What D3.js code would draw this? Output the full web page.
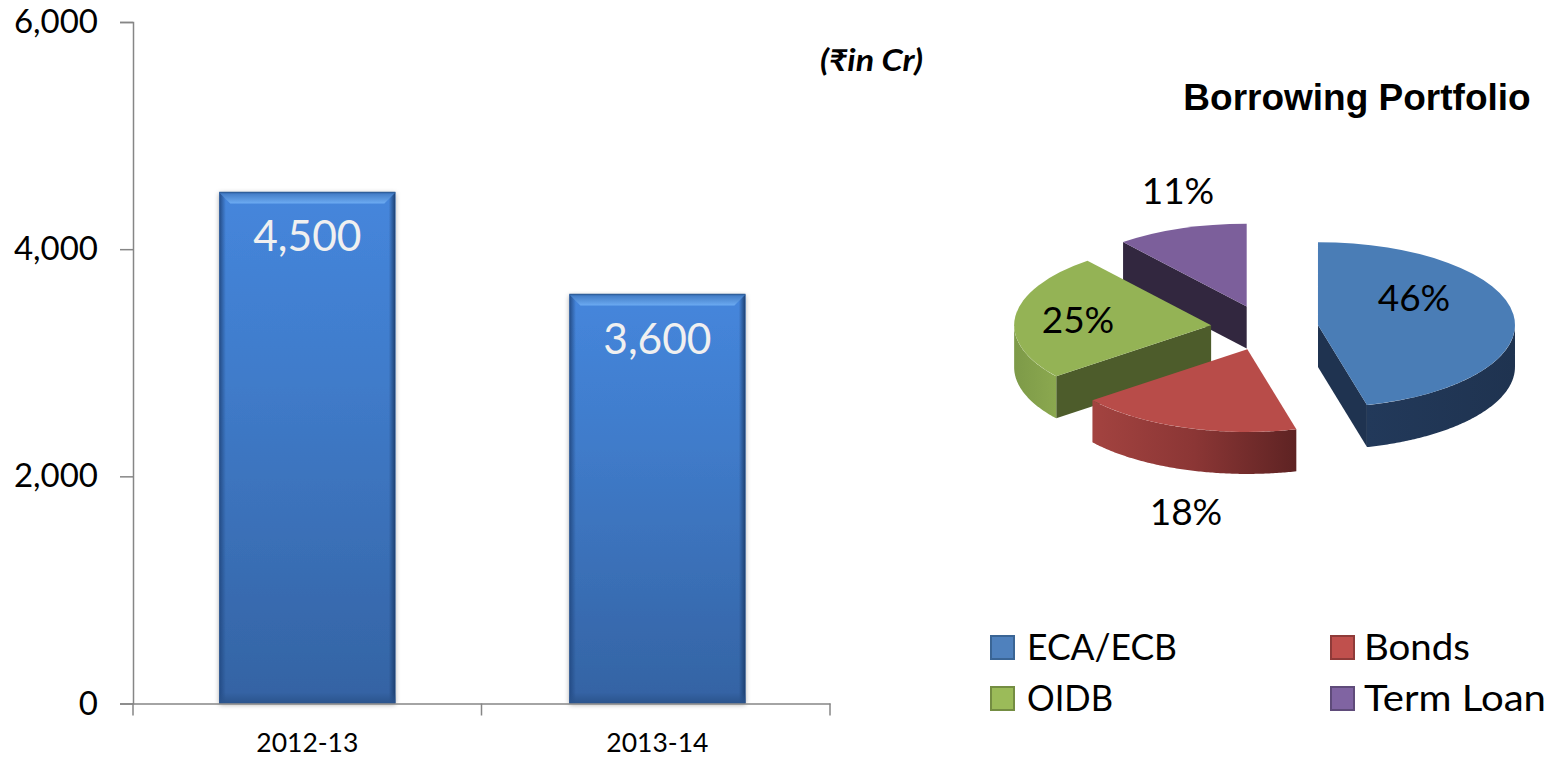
<!DOCTYPE html>
<html>
<head>
<meta charset="utf-8">
<script src="https://cdn.jsdelivr.net/npm/d3@7"></script>
<style>
  body { margin: 0; background: #fff; }
  text { font-family: Lato, "Noto Sans", sans-serif; fill: #000; }
</style>
</head>
<body>
<div id="vis"></div>
<script>
// bar chart data
const years = ["2012-13", "2013-14"];
const borrowings = [4500, 3600];
const yTicks = [0, 2000, 4000, 6000];

// pie data, unrounded shares
const portfolioNames = ["ECA/ECB", "Bonds", "OIDB", "Term Loan"];
const portfolioShares = [46, 18.4, 24.8, 10.8];

const FRAME_WIDTH = 1554;
const FRAME_HEIGHT = 758;

const svg = d3.select("#vis").append("svg")
  .attr("width", FRAME_WIDTH)
  .attr("height", FRAME_HEIGHT)
  .style("display", "block");

const defs = svg.append("defs");

function linearGradient(id, vertical, stops) {
  const g = defs.append("linearGradient").attr("id", id)
    .attr("x1", 0).attr("y1", 0)
    .attr("x2", vertical ? 0 : 1).attr("y2", vertical ? 1 : 0);
  stops.forEach((s) => g.append("stop").attr("offset", s[0]).attr("stop-color", s[1]));
}

linearGradient("barFill", true, [[0, "#4586dc"], [0.35, "#407ccb"], [1, "#3463a3"]]);
linearGradient("barTop", true, [[0, "#3f78c2"], [1, "#6cabf2"]]);
linearGradient("barLeft", false, [[0, "#234b85"], [0.6, "#234b8500"]]);
linearGradient("barRight", false, [[0.4, "#1c3f7000"], [1, "#1c3f70"]]);
linearGradient("barBottom", true, [[0, "#2a538c00"], [1, "#2a538c"]]);
linearGradient("wall0", false, [[0, "#22395a"], [1, "#1f3350"]]);
linearGradient("wall1", false, [[0, "#a34340"], [0.5, "#8b3635"], [1, "#5e2323"]]);
linearGradient("wall2", false, [[0, "#7d9a48"], [1, "#8ba84f"]]);

const shadow = defs.append("filter").attr("id", "barShadow")
  .attr("x", "-5%").attr("y", "-5%").attr("width", "110%").attr("height", "110%");
shadow.append("feDropShadow").attr("dx", 0).attr("dy", 1).attr("stdDeviation", 2.5)
  .attr("flood-color", "#000").attr("flood-opacity", 0.35);

// ---- bar chart ----
const xScale = d3.scaleBand().domain(years).range([133, 830])
  .paddingInner(0.497).paddingOuter(0.244).align(0.505);
const yScale = d3.scaleLinear().domain([0, 6000]).range([703.5, 22]);

const yAxis = d3.axisLeft(yScale).tickValues(yTicks).tickSize(13)
  .tickFormat(d3.format(",")).tickPadding(22);
const xAxis = d3.axisBottom(xScale).tickSize(0).tickPadding(30);

const bars = svg.append("g");
const BEVEL = 11;

years.forEach((year, i) => {
  const x0 = xScale(year);
  const x1 = x0 + xScale.bandwidth();
  const y0 = yScale(borrowings[i]);
  const y1 = yScale(0);
  const bar = bars.append("g");
  bar.append("rect")
    .attr("x", x0).attr("y", y0)
    .attr("width", x1 - x0).attr("height", y1 - y0)
    .attr("fill", "url(#barFill)")
    .attr("filter", "url(#barShadow)");
  // bevel around the bar
  bar.append("rect").attr("x", x0).attr("y", y0).attr("width", BEVEL).attr("height", y1 - y0)
    .attr("fill", "url(#barLeft)");
  bar.append("rect").attr("x", x1 - BEVEL).attr("y", y0).attr("width", BEVEL).attr("height", y1 - y0)
    .attr("fill", "url(#barRight)");
  bar.append("rect").attr("x", x0).attr("y", y1 - BEVEL).attr("width", x1 - x0).attr("height", BEVEL)
    .attr("fill", "url(#barBottom)");
  bar.append("path")
    .attr("d", `M${x0},${y0}H${x1}L${x1 - BEVEL},${y0 + BEVEL}H${x0 + BEVEL}Z`)
    .attr("fill", "url(#barTop)");
  bar.append("path")
    .attr("d", `M${x0},${y0}H${x1}`)
    .attr("stroke", "#2f5f9c").attr("stroke-width", 1.5);
  bar.append("text")
    .attr("x", (x0 + x1) / 2)
    .attr("y", y0 + 59)
    .attr("text-anchor", "middle")
    .attr("font-size", 42.5)
    .style("fill", "#f0f0f0")
    .text(d3.format(",")(borrowings[i]));
});

const yG = svg.append("g").attr("transform", "translate(133,0)").call(yAxis);
const xG = svg.append("g").attr("transform", "translate(0,703.5)").call(xAxis);
yG.selectAll("text").attr("font-size", 33);
xG.selectAll("text").attr("font-size", 26.5);
svg.selectAll(".domain, .tick line").attr("stroke", "#868686").attr("stroke-width", 1.5);

// x axis ticks sit between the categories, not on them
const xRange = xScale.range();
xG.selectAll(".tick line").remove();
xG.selectAll("line.sep")
  .data([xRange[0], (xRange[0] + xRange[1]) / 2, xRange[1]])
  .enter().append("line")
  .attr("class", "sep")
  .attr("x1", (d) => d)
  .attr("x2", (d) => d)
  .attr("y1", 0).attr("y2", 12)
  .attr("stroke", "#868686").attr("stroke-width", 1.5);

svg.append("text")
  .attr("x", 820).attr("y", 71)
  .attr("font-size", 30)
  .attr("font-weight", "bold")
  .attr("font-style", "italic")
  .attr("textLength", 103)
  .attr("lengthAdjust", "spacingAndGlyphs")
  .text("(\u20B9in Cr)");

// ---- exploded 3D pie ----
svg.append("text")
  .attr("x", 1357).attr("y", 110)
  .attr("text-anchor", "middle")
  .attr("font-size", 37)
  .attr("font-weight", "bold")
  .style("font-family", "'Liberation Sans', Arial, sans-serif")
  .text("Borrowing Portfolio");

const PIE_CX = 1264.6;
const PIE_CY = 327.8;
const PIE_RX = 197;
const TILT = 0.42;
const DEPTH = 42;
const EXPLODE = 53.8;

const topColors = ["#4a7db6", "#b84c49", "#94b355", "#7c5f9b"];
const faceColors = ["#1f3350", "#5e2323", "#4d5c2b", "#32273f"];
const legendColors = ["#4f81bd", "#c0504d", "#9bbb59", "#8064a2"];
const legendBorders = ["#3a6595", "#8f3b39", "#748d42", "#5f4b7a"];

const slices = d3.pie().sort(null)(portfolioShares);
const topArc = d3.arc().innerRadius(0).outerRadius(PIE_RX);

// angle (clockwise from top) -> screen position relative to slice apex
const project = (a, dy) => [PIE_RX * Math.sin(a), -PIE_RX * TILT * Math.cos(a) + (dy || 0)];
const lineGen = d3.line();
const PI = Math.PI;

// back slices first so the front ones overlap them
const drawOrder = [3, 2, 1, 0];
const pie = svg.append("g");

drawOrder.forEach((i) => {
  const s = slices[i];
  const mid = (s.startAngle + s.endAngle) / 2;
  const ax = PIE_CX + EXPLODE * Math.sin(mid);
  const ay = PIE_CY - EXPLODE * TILT * Math.cos(mid);
  const g = pie.append("g").attr("transform", `translate(${ax},${ay})`);

  // radial cut faces that turn towards the viewer
  [[s.startAngle, s.startAngle > PI && s.startAngle < 2 * PI],
   [s.endAngle, s.endAngle > 0 && s.endAngle < PI]].forEach(([a, visible]) => {
    if (!visible) return;
    const rim = project(a);
    g.append("path")
      .attr("d", lineGen([[0, 0], rim, [rim[0], rim[1] + DEPTH], [0, DEPTH]]) + "Z")
      .attr("fill", faceColors[i]);
  });

  // outer wall, only the part on the near half of the ellipse
  const a0 = Math.max(s.startAngle, PI / 2);
  const a1 = Math.min(s.endAngle, 3 * PI / 2);
  if (a1 > a0) {
    const angles = d3.range(a0, a1, 0.01).concat([a1]);
    const outline = angles.map((a) => project(a))
      .concat(angles.slice().reverse().map((a) => project(a, DEPTH)));
    g.append("path")
      .attr("d", lineGen(outline) + "Z")
      .attr("fill", i === 1 ? "url(#wall1)" : i === 2 ? "url(#wall2)" : "url(#wall0)");
  }

  g.append("path")
    .attr("d", topArc(s))
    .attr("transform", `scale(1,${TILT})`)
    .attr("fill", topColors[i]);
});

const pieLabelPos = [[1414, 311], [1186, 525], [1078, 333], [1178, 204]];
pie.selectAll("text.share")
  .data(portfolioShares)
  .enter().append("text")
  .attr("class", "share")
  .attr("x", (d, i) => pieLabelPos[i][0])
  .attr("y", (d, i) => pieLabelPos[i][1])
  .attr("text-anchor", "middle")
  .attr("font-size", 37)
  .text((d) => Math.round(d) + "%");

// ---- legend ----
const legendX = [990, 1330];
const legendY = [635, 686];
const legendTextWidth = [150, 106, 86, 182];
const legend = svg.append("g").selectAll("g")
  .data(portfolioNames)
  .enter().append("g")
  .attr("transform", (d, i) => `translate(${legendX[i % 2]},${legendY[Math.floor(i / 2)]})`);

legend.append("rect")
  .attr("x", 1).attr("y", 1)
  .attr("width", 23).attr("height", 23)
  .attr("fill", (d, i) => legendColors[i])
  .attr("stroke", (d, i) => legendBorders[i])
  .attr("stroke-width", 2);

legend.append("text")
  .attr("x", (d, i) => i % 2 ? 34 : 37)
  .attr("y", 25)
  .attr("font-size", 36)
  .attr("textLength", (d, i) => legendTextWidth[i])
  .attr("lengthAdjust", "spacingAndGlyphs")
  .text((d) => d);
</script>
</body>
</html>
